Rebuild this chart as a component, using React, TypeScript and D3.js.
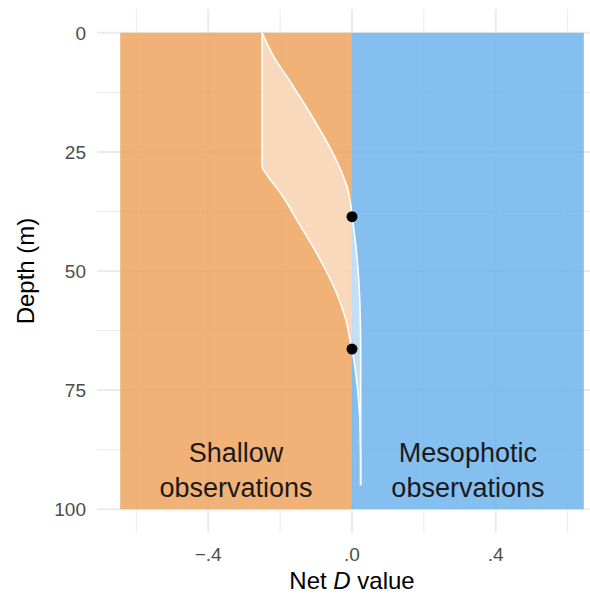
import React from "react";
import * as d3 from "d3";

// depth (m) and the lower / upper bounds of net D along it
const depths = [0, 5, 10, 15, 20, 25, 28, 30, 32.5, 35, 40, 45, 50, 55, 60, 65, 66.4, 70, 75, 80, 85, 90, 95];
const lower = [-0.25, -0.25, -0.25, -0.25, -0.25, -0.25, -0.25, -0.235, -0.21, -0.187, -0.148, -0.108, -0.072, -0.041, -0.018, -0.004, 0, 0.008, 0.016, 0.021, 0.023, 0.024, 0.024];
const upper = [-0.25, -0.218, -0.174, -0.132, -0.092, -0.055, -0.036, -0.025, -0.013, -0.006, 0.003, 0.011, 0.017, 0.021, 0.023, 0.024, 0.024, 0.024, 0.024, 0.024, 0.024, 0.024, 0.024];

// depths where the bounds cross zero
const crossDepths = [38.6, 66.4];

const regionLimit = 0.645;
const xMajor = [-0.4, 0, 0.4];
const xMinor = [-0.6, -0.2, 0.2, 0.6];
const xLabels = ["\u2212.4", ".0", ".4"];
const yMajor = [0, 25, 50, 75, 100];
const yMinor = [12.5, 37.5, 62.5, 87.5];

const W = 590, H = 597;
const font = "'Liberation Sans', Arial, sans-serif";

export default function App() {
  const x = d3.scaleLinear().domain([-regionLimit * 1.1, regionLimit * 1.1]).range([97, 607]);
  const y = d3.scaleLinear().domain([-5, 105]).range([9, 533]);

  const rows = depths.map((d, i) => ({ d, lo: lower[i], hi: upper[i] }));
  const area = d3
    .area<any>()
    .y((r) => y(r.d))
    .x0((r) => x(r.lo))
    .x1((r) => x(r.hi))
    .curve(d3.curveMonotoneY);
  const loLine = d3.line<any>().y((r) => y(r.d)).x((r) => x(r.lo)).curve(d3.curveMonotoneY);
  const hiLine = d3.line<any>().y((r) => y(r.d)).x((r) => x(r.hi)).curve(d3.curveMonotoneY);

  const [px0, px1] = x.range();
  const [py0, py1] = y.range();

  return (
    <svg width={W} height={H} style={{ position: "absolute", left: 0, top: 0 }} fontFamily={font}>
      <rect width={W} height={H} fill="#fff" />
      {/* grid */}
      {yMinor.map((v) => (
        <line key={"ym" + v} x1={px0} x2={px1} y1={y(v)} y2={y(v)} stroke="#ebebeb" strokeWidth={1} />
      ))}
      {xMinor.map((v) => (
        <line key={"xm" + v} x1={x(v)} x2={x(v)} y1={py0} y2={py1} stroke="#ebebeb" strokeWidth={1} />
      ))}
      {yMajor.map((v) => (
        <line key={"yM" + v} x1={px0} x2={px1} y1={y(v)} y2={y(v)} stroke="#ebebeb" strokeWidth={2} />
      ))}
      {xMajor.map((v) => (
        <line key={"xM" + v} x1={x(v)} x2={x(v)} y1={py0} y2={py1} stroke="#ebebeb" strokeWidth={2} />
      ))}
      {/* regions */}
      <rect x={x(-regionLimit)} y={y(0)} width={x(0) - x(-regionLimit)} height={y(100) - y(0)} fill="#ec9f55" opacity={0.8} />
      <rect x={x(0)} y={y(0)} width={x(regionLimit) - x(0)} height={y(100) - y(0)} fill="#66afec" opacity={0.8} />
      {/* ribbon */}
      <path d={area(rows) || ""} fill="#fff" opacity={0.5} />
      <path d={loLine(rows) || ""} fill="none" stroke="#fff" strokeWidth={1.6} />
      <path d={hiLine(rows) || ""} fill="none" stroke="#fff" strokeWidth={1.6} />
      {crossDepths.map((d) => (
        <circle key={d} cx={x(0)} cy={y(d)} r={5.5} fill="#000" />
      ))}
      {/* annotations */}
      <text x={x(-regionLimit / 2)} y={y(90.2)} textAnchor="middle" fontSize={27} fill="#1a1a1a">
        <tspan x={x(-regionLimit / 2)}>Shallow</tspan>
        <tspan x={x(-regionLimit / 2)} dy={35}>observations</tspan>
      </text>
      <text x={x(regionLimit / 2)} y={y(90.2)} textAnchor="middle" fontSize={27} fill="#1a1a1a">
        <tspan x={x(regionLimit / 2)}>Mesophotic</tspan>
        <tspan x={x(regionLimit / 2)} dy={35}>observations</tspan>
      </text>
      {/* axes */}
      {yMajor.map((v) => (
        <text key={"yl" + v} x={86} y={y(v)} dy="0.36em" textAnchor="end" fontSize={19} fill="#4d4d4d">
          {v}
        </text>
      ))}
      {xMajor.map((v, i) => (
        <text key={"xl" + v} x={x(v)} y={561} textAnchor="middle" fontSize={19} fill="#4d4d4d">
          {xLabels[i]}
        </text>
      ))}
      <text x={x(0)} y={589} textAnchor="middle" fontSize={24} fill="#000">
        Net <tspan fontStyle="italic">D</tspan> value
      </text>
      <text transform={`translate(34,${(py0 + py1) / 2}) rotate(-90)`} textAnchor="middle" fontSize={24} fill="#000">
        Depth (m)
      </text>
    </svg>
  );
}
